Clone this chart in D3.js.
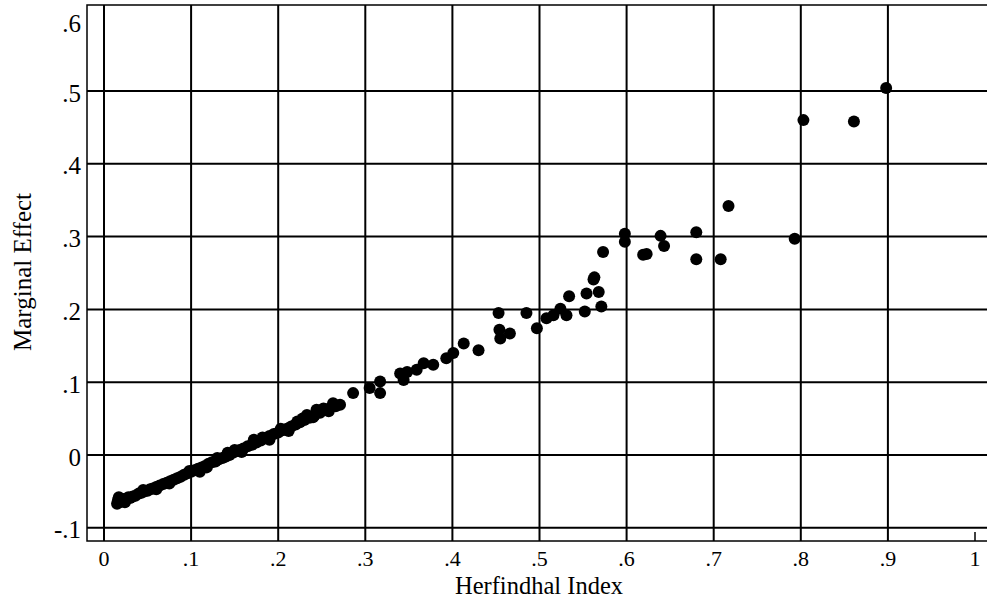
<!DOCTYPE html>
<html>
<head>
<meta charset="utf-8">
<script src="https://cdn.jsdelivr.net/npm/d3@7"></script>
<style>
  body { margin: 0; background: #fff; }
  svg { display: block; font-family: "Liberation Serif", "Times New Roman", serif; }
</style>
</head>
<body>
<div id="plot"></div>
<script>
// Herfindhal index (x) vs marginal effect (y)
const herfindhal = [
  0.015, 0.016, 0.018, 0.020, 0.022, 0.025, 0.028, 0.030, 0.033, 0.036,
  0.040, 0.043, 0.046, 0.050, 0.053, 0.056, 0.060, 0.064, 0.068, 0.072,
  0.076, 0.080, 0.084, 0.088, 0.092, 0.096, 0.100, 0.104, 0.108, 0.112,
  0.116, 0.120, 0.124, 0.128, 0.132, 0.136, 0.140, 0.144, 0.148, 0.152,
  0.156, 0.160, 0.165, 0.170, 0.175, 0.180, 0.185, 0.190, 0.195, 0.200,
  0.205, 0.210, 0.215, 0.220, 0.225, 0.230, 0.236, 0.242, 0.248, 0.254,
  0.260, 0.266, 0.060, 0.130, 0.182, 0.222,
  0.017, 0.024, 0.045, 0.075, 0.098, 0.118, 0.142, 0.158, 0.172, 0.190,
  0.203, 0.212, 0.228, 0.240, 0.252, 0.258, 0.110, 0.150,
  0.233, 0.244, 0.263, 0.271, 0.286, 0.305, 0.317, 0.317, 0.340, 0.344,
  0.348, 0.359, 0.367, 0.378, 0.393, 0.401, 0.413, 0.430, 0.453, 0.454,
  0.455, 0.466, 0.485, 0.497, 0.508, 0.516, 0.524, 0.531, 0.534, 0.552,
  0.554, 0.562, 0.563, 0.568, 0.571, 0.573, 0.598, 0.598, 0.619, 0.623,
  0.639, 0.643, 0.680, 0.680, 0.708, 0.717, 0.793, 0.803, 0.861, 0.898
];
const marginalEffect = [
  -0.067, -0.062, -0.065, -0.060, -0.063, -0.060, -0.058, -0.059, -0.057, -0.056,
  -0.053, -0.052, -0.050, -0.049, -0.047, -0.046, -0.044, -0.042, -0.040, -0.038,
  -0.036, -0.034, -0.032, -0.030, -0.027, -0.025, -0.023, -0.021, -0.019, -0.017,
  -0.015, -0.012, -0.010, -0.009, -0.006, -0.004, -0.002, 0.000, 0.003, 0.005,
  0.007, 0.009, 0.012, 0.014, 0.017, 0.020, 0.023, 0.026, 0.029, 0.031,
  0.034, 0.036, 0.039, 0.042, 0.045, 0.048, 0.051, 0.055, 0.058, 0.062,
  0.065, 0.067, -0.047, -0.004, 0.024, 0.046,
  -0.058, -0.065, -0.048, -0.039, -0.022, -0.017, 0.003, 0.004, 0.021, 0.021,
  0.036, 0.033, 0.050, 0.052, 0.064, 0.060, -0.023, 0.007,
  0.055, 0.062, 0.071, 0.069, 0.085, 0.092, 0.101, 0.085, 0.112, 0.103,
  0.114, 0.117, 0.126, 0.124, 0.133, 0.140, 0.153, 0.144, 0.195, 0.172,
  0.160, 0.167, 0.195, 0.174, 0.188, 0.192, 0.201, 0.192, 0.218, 0.197,
  0.222, 0.241, 0.244, 0.224, 0.204, 0.279, 0.304, 0.293, 0.275, 0.276,
  0.301, 0.287, 0.306, 0.269, 0.269, 0.342, 0.297, 0.460, 0.458, 0.504
];

const xTicks = [0, 0.1, 0.2, 0.3, 0.4, 0.5, 0.6, 0.7, 0.8, 0.9, 1];
const xTickLabels = ["0", ".1", ".2", ".3", ".4", ".5", ".6", ".7", ".8", ".9", "1"];
const yTicks = [-0.1, 0, 0.1, 0.2, 0.3, 0.4, 0.5, 0.6];
const yTickLabels = ["-.1", "0", ".1", ".2", ".3", ".4", ".5", ".6"];

const W = 987, H = 600;
const frame = { left: 87, top: 5, bottom: 541, right: 995 };

const svg = d3.select('#plot')
  .append('svg')
  .attr('width', W)
  .attr('height', H);

const x = d3.scaleLinear().domain([0, 1]).range([104, 975]);
const y = d3.scaleLinear().domain([-0.1, 0.5]).range([527.8, 91]);

// frame
svg.append('rect')
  .attr('x', frame.left)
  .attr('y', frame.top)
  .attr('width', frame.right - frame.left)
  .attr('height', frame.bottom - frame.top)
  .attr('fill', 'none')
  .attr('stroke', '#000')
  .attr('stroke-width', 1.5);

// horizontal grid (-.1 .. .5)
svg.selectAll('.hgrid')
  .data(yTicks.filter((d) => d <= 0.5))
  .enter()
  .append('line')
  .attr('class', 'hgrid')
  .attr('x1', frame.left)
  .attr('x2', frame.right)
  .attr('y1', (d) => y(d))
  .attr('y2', (d) => y(d))
  .attr('stroke', '#000')
  .attr('stroke-width', 2);

// vertical grid (0 .. .9) and a short tick at 1
svg.selectAll('.vgrid')
  .data(xTicks)
  .enter()
  .append('line')
  .attr('class', 'vgrid')
  .attr('x1', (d) => x(d))
  .attr('x2', (d) => x(d))
  .attr('y1', (d) => (d < 1 ? frame.top : frame.bottom - 9))
  .attr('y2', frame.bottom)
  .attr('stroke', '#000')
  .attr('stroke-width', (d) => (d < 1 ? 2 : 1.5));

// tick labels
svg.selectAll('.xlab')
  .data(xTicks)
  .enter()
  .append('text')
  .attr('class', 'xlab')
  .attr('x', (d) => x(d))
  .attr('y', 566)
  .attr('text-anchor', 'middle')
  .style('font-size', '22px')
  .text((d, i) => xTickLabels[i]);

svg.selectAll('.ylab')
  .data(yTicks)
  .enter()
  .append('text')
  .attr('class', 'ylab')
  .attr('x', 81)
  .attr('y', (d) => Math.max(y(d) + 10.5, 32))
  .attr('text-anchor', 'end')
  .style('font-size', '25px')
  .text((d, i) => yTickLabels[i]);

// axis titles
svg.append('text')
  .attr('x', 539)
  .attr('y', 594)
  .attr('text-anchor', 'middle')
  .style('font-size', '24.5px')
  .text('Herfindhal Index');

svg.append('text')
  .attr('transform', 'translate(31,272) rotate(-90)')
  .attr('text-anchor', 'middle')
  .style('font-size', '25px')
  .text('Marginal Effect');

// points
const points = herfindhal.map((h, i) => ({ h: h, m: marginalEffect[i] }));

svg.selectAll('circle')
  .data(points)
  .enter()
  .append('circle')
  .attr('cx', (d) => x(d.h))
  .attr('cy', (d) => y(d.m))
  .attr('r', 6)
  .attr('fill', '#000');
</script>
</body>
</html>
